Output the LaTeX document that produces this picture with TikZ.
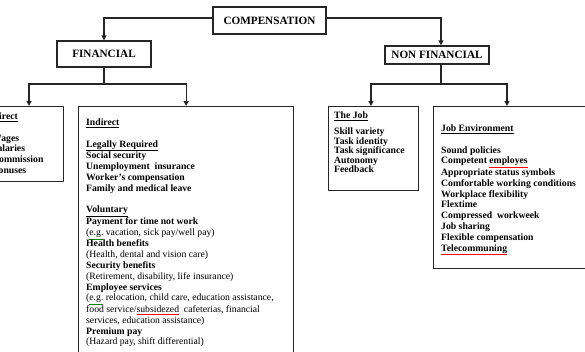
\documentclass[tikz,border=0pt]{standalone}
\usepackage{fontspec}
\setmainfont{Liberation Serif}
\usetikzlibrary{arrows.meta}
\newcommand{\spellerr}[1]{\textcolor{red}{\underline{\textcolor{black}{#1}}}}
\newcommand{\grammarerr}[1]{\textcolor{green!50!black}{\underline{\textcolor{black}{#1}}}}
\begin{document}
\begin{tikzpicture}[x=1pt,y=-1pt,
  box/.style={draw=black!85, line width=1.2pt, inner sep=0pt},
  hdr/.style={box, font=\fontsize{11.2}{13}\selectfont\bfseries},
  conn/.style={draw=black!85, line width=1.2pt},
  arr/.style={conn, -{Triangle[length=5pt,width=5pt]}},
  txt/.style={anchor=north west, inner sep=0pt, font=\fontsize{9.7}{10.8}\selectfont\bfseries},
  jobtxt/.style={anchor=north west, inner sep=0pt, font=\fontsize{9.7}{9.4}\selectfont\bfseries},
]
\useasboundingbox (0,0) rectangle (585,351);
\fill[white] (0,0) rectangle (585,351);
\clip (0,0) rectangle (585,351);

% header boxes
\node[hdr, minimum width=113pt, minimum height=27pt] (comp) at (269.5,20.5) {COMPENSATION};
\node[hdr, minimum width=94pt, minimum height=26pt] (fin) at (104,54) {FINANCIAL};
\node[hdr, minimum width=104pt, minimum height=18pt] (nonfin) at (437,55) {NON FINANCIAL};

% content boxes
\node[box, anchor=north west, minimum width=83pt, minimum height=75pt] (direct) at (-20,106) {};
\node[box, anchor=north west, minimum width=215pt, minimum height=270pt] (indirect) at (78,106) {};
\node[box, anchor=north west, minimum width=90pt, minimum height=84pt] (job) at (328,106) {};
\node[box, anchor=north west, minimum width=170pt, minimum height=162pt] (env) at (433,106) {};

% connectors
\draw[arr] ([yshift=2.5pt]comp.west) -| (fin.north);
\draw[arr] ([yshift=2.5pt]comp.east) -| ([xshift=4pt]nonfin.north);
\coordinate (fj) at (104,84);
\coordinate (fa) at (29,106);
\draw[conn] (fin.south) -- (fj);
\draw[arr] (fj) -| (fa);
\draw[arr] (fj) -| (indirect.north);
\coordinate (nj) at (441,84);
\coordinate (na) at (371,106);
\coordinate (nb) at (507,106);
\draw[conn] ([xshift=4pt]nonfin.south) -- (nj);
\draw[arr] (nj) -| (na);
\draw[arr] (nj) -| (nb);

% texts
\node[txt] (tdirect) at (-8,111.7) {\begin{tabular}{@{}l@{}}
\underline{Direct}\\
\\
Wages\\
Salaries\\
Commission\\
Bonuses
\end{tabular}};

\node[txt] (tindirect) at (86,117.7) {\begin{tabular}{@{}l@{}}
\underline{Indirect}\\
\\
\underline{Legally Required}\\
Social security\\
Unemployment\ \ insurance\\
Worker's compensation\\
Family and medical leave\\
\\
\underline{Voluntary}\\
Payment for time not work\\
\mdseries(\grammarerr{e.g.} vacation, sick pay/well pay)\\
Health benefits\\
\mdseries(Health, dental and vision care)\\
Security benefits\\
\mdseries(Retirement, disability, life insurance)\\
Employee services\\
\mdseries(\grammarerr{e.g.} relocation, child care, education assistance,\\
\mdseries food service/\spellerr{subsidezed}\ \ cafeterias, financial\\
\mdseries services, education assistance)\\
Premium pay\\
\mdseries(Hazard pay, shift differential)
\end{tabular}};

\node[jobtxt] (tjob) at (334,112) {\begin{tabular}{@{}l@{}}
\underline{The Job}\\[6pt]
Skill variety\\
Task identity\\
Task significance\\
Autonomy\\
Feedback
\end{tabular}};

\node[txt] (tenv) at (441,123.7) {\begin{tabular}{@{}l@{}}
\underline{Job Environment}\\
\\
Sound policies\\
Competent \spellerr{employes}\\
Appropriate status symbols\\
Comfortable working conditions\\
Workplace flexibility\\
Flextime\\
Compressed\ \ workweek\\
Job sharing\\
Flexible compensation\\
\spellerr{Telecommuning}
\end{tabular}};
\end{tikzpicture}
\end{document}
